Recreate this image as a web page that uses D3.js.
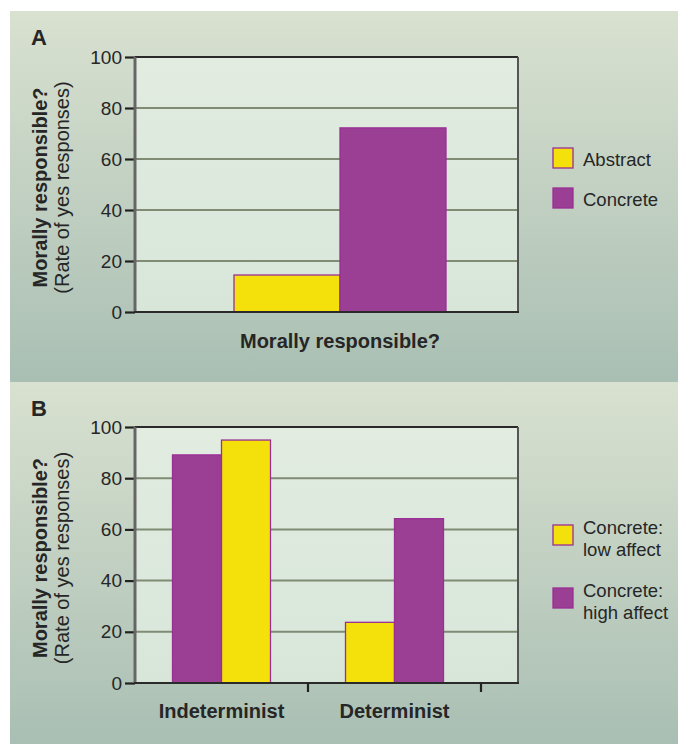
<!DOCTYPE html>
<html><head><meta charset="utf-8">
<script src="https://cdn.jsdelivr.net/npm/d3@7"></script>
<style>html,body{margin:0;padding:0;background:#fff;}svg{display:block;}</style>
</head><body>
<script>
// Panel A data
const seriesA = ["Abstract", "Concrete"];
const valuesA = [14.5, 72.2];
const categoryA = ["Morally responsible?"];
// Panel B data
const categoriesB = ["Indeterminist", "Determinist"];
const seriesB = ["Concrete: high affect", "Concrete: low affect"];
const highAffect = [89.1, 64.2];
const lowAffect = [94.9, 23.7];
const barOrderB = [["high", "low"], ["low", "high"]];
const yTicks = [0, 20, 40, 60, 80, 100];

const W = 678, H = 744;
const YEL = "#f4e00b", PUR = "#9b3f95", EDGE = "#9a2f94";
const svg = d3.select("body").append("svg").attr("width", W).attr("height", H);
const defs = svg.append("defs");
const grad = defs.append("linearGradient").attr("id", "bg").attr("x1", 0).attr("y1", 0).attr("x2", 0).attr("y2", 1);
grad.append("stop").attr("offset", "0%").attr("stop-color", "#d9e1d0");
grad.append("stop").attr("offset", "100%").attr("stop-color", "#a9bfb3");
const grad2 = defs.append("linearGradient").attr("id", "pl").attr("x1", 0).attr("y1", 0).attr("x2", 0).attr("y2", 1);
grad2.append("stop").attr("offset", "0%").attr("stop-color", "#e2ece1");
grad2.append("stop").attr("offset", "100%").attr("stop-color", "#d8e6da");

const FONT = "'Liberation Sans', Arial, sans-serif";
const TXT = "#262626";

function panel(top, bottom, label, plotTop, plotBottom) {
  const g = svg.append("g");
  g.append("rect").attr("x", 10).attr("y", top).attr("width", W - 10).attr("height", bottom - top).attr("fill", "url(#bg)");
  g.append("text").attr("x", 31).attr("y", top + 34).attr("font-family", FONT).attr("font-weight", "bold")
    .attr("font-size", 22).attr("fill", TXT).text(label);
  const L = 135, R = 518;
  const y = d3.scaleLinear().domain([0, 100]).range([plotBottom, plotTop]);
  g.append("rect").attr("x", L).attr("y", plotTop).attr("width", R - L).attr("height", plotBottom - plotTop).attr("fill", "url(#pl)");
  // gridlines
  g.selectAll(".grid").data(yTicks.filter(t => t > 0 && t < 100)).enter().append("line")
    .attr("x1", L).attr("x2", R).attr("y1", d => y(d)).attr("y2", d => y(d))
    .attr("stroke", "#7f8b73").attr("stroke-width", 2);
  // y axis
  const ax = g.append("g").attr("transform", `translate(${L},0)`)
    .call(d3.axisLeft(y).tickValues(yTicks).tickSize(10).tickPadding(3));
  ax.select(".domain").remove();
  ax.selectAll(".tick line").attr("stroke", "#222").attr("stroke-width", 2.2);
  ax.selectAll(".tick text").attr("font-family", FONT).attr("font-size", 19).attr("fill", TXT);
  // y title
  const cy = (plotTop + plotBottom) / 2 + 3;
  g.append("text").attr("transform", `translate(47,${cy}) rotate(-90)`).attr("text-anchor", "middle")
    .attr("font-family", FONT).attr("font-weight", "bold").attr("font-size", 20).attr("fill", TXT)
    .text("Morally responsible?");
  g.append("text").attr("transform", `translate(69,${cy}) rotate(-90)`).attr("text-anchor", "middle")
    .attr("font-family", FONT).attr("font-size", 20).attr("fill", TXT)
    .text("(Rate of yes responses)");
  return {g, y, L, R, plotTop, plotBottom};
}

function frame(p) {
  const {g, L, R, plotTop, plotBottom} = p;
  g.append("line").attr("x1", L).attr("x2", R).attr("y1", plotTop).attr("y2", plotTop).attr("stroke", "#2a2a2a").attr("stroke-width", 2);
  g.append("line").attr("x1", R).attr("x2", R).attr("y1", plotTop).attr("y2", plotBottom).attr("stroke", "#555").attr("stroke-width", 2);
  g.append("line").attr("x1", L).attr("x2", L).attr("y1", plotTop).attr("y2", plotBottom).attr("stroke", "#666").attr("stroke-width", 3);
  g.append("line").attr("x1", L - 1).attr("x2", R + 1).attr("y1", plotBottom).attr("y2", plotBottom).attr("stroke", "#2a2a2a").attr("stroke-width", 2.2);
}

function legend(g, items, x, y0, gap, base) {
  items.forEach((it, i) => {
    const yy = y0 + i * gap;
    g.append("rect").attr("x", x).attr("y", yy).attr("width", 20).attr("height", 20)
      .attr("fill", it.color).attr("stroke", EDGE).attr("stroke-width", 1.3);
    it.lines.forEach((t, j) => {
      g.append("text").attr("x", x + 30).attr("y", yy + base + j * 22).attr("font-family", FONT)
        .attr("font-size", 18.5).attr("fill", TXT).text(t);
    });
  });
}

// ---------- Panel A ----------
const pA = panel(11, 382, "A", 57, 312);
const xA = d3.scaleBand().domain(categoryA).range([135, 545]);
const xsA = d3.scaleBand().domain(seriesA).range([0, 212]);
const colorA = d3.scaleOrdinal().domain(seriesA).range([YEL, PUR]);
pA.g.selectAll(".barA").data(seriesA.map((s, i) => ({s, v: valuesA[i]}))).enter().append("rect")
  .attr("x", d => xA(categoryA[0]) + xA.bandwidth() / 2 - 106 + xsA(d.s))
  .attr("width", xsA.bandwidth())
  .attr("y", d => pA.y(d.v)).attr("height", d => pA.y(0) - pA.y(d.v))
  .attr("fill", d => colorA(d.s)).attr("stroke", EDGE).attr("stroke-width", 1.3);
frame(pA);
pA.g.append("text").attr("x", xA(categoryA[0]) + xA.bandwidth() / 2).attr("y", 348).attr("text-anchor", "middle")
  .attr("font-family", FONT).attr("font-weight", "bold").attr("font-size", 20).attr("fill", TXT).text(categoryA[0]);
legend(pA.g, [{color: YEL, lines: ["Abstract"]}, {color: PUR, lines: ["Concrete"]}], 553, 148, 40, 18);

// ---------- Panel B ----------
const pB = panel(382, 744, "B", 427, 683);
const xB = d3.scaleBand().domain(categoriesB).range([135, 481]);
const xsB = d3.scaleBand().domain([0, 1]).range([0, 98]);
const dataB = [];
categoriesB.forEach((c, i) => {
  barOrderB[i].forEach((k, j) => {
    dataB.push({c, pos: j, v: k === "high" ? highAffect[i] : lowAffect[i], color: k === "high" ? PUR : YEL});
  });
});
pB.g.selectAll(".barB").data(dataB).enter().append("rect")
  .attr("x", d => xB(d.c) + xB.bandwidth() / 2 - 49 + xsB(d.pos))
  .attr("width", xsB.bandwidth())
  .attr("y", d => pB.y(d.v)).attr("height", d => pB.y(0) - pB.y(d.v))
  .attr("fill", d => d.color).attr("stroke", EDGE).attr("stroke-width", 1.3);
frame(pB);
const axB = pB.g.append("g").attr("transform", `translate(0,${pB.plotBottom})`)
  .call(d3.axisBottom(xB).tickSize(0).tickPadding(21));
axB.select(".domain").remove();
axB.selectAll(".tick text").attr("font-family", FONT).attr("font-weight", "bold").attr("font-size", 20).attr("fill", TXT);
pB.g.selectAll(".sep").data(categoriesB).enter().append("line")
  .attr("x1", d => xB(d) + xB.bandwidth()).attr("x2", d => xB(d) + xB.bandwidth())
  .attr("y1", pB.plotBottom).attr("y2", pB.plotBottom + 9).attr("stroke", "#222").attr("stroke-width", 2.2);
legend(pB.g, [{color: YEL, lines: ["Concrete:", "low affect"]}, {color: PUR, lines: ["Concrete:", "high affect"]}], 553, 525, 63, 9);
</script>
</body></html>
